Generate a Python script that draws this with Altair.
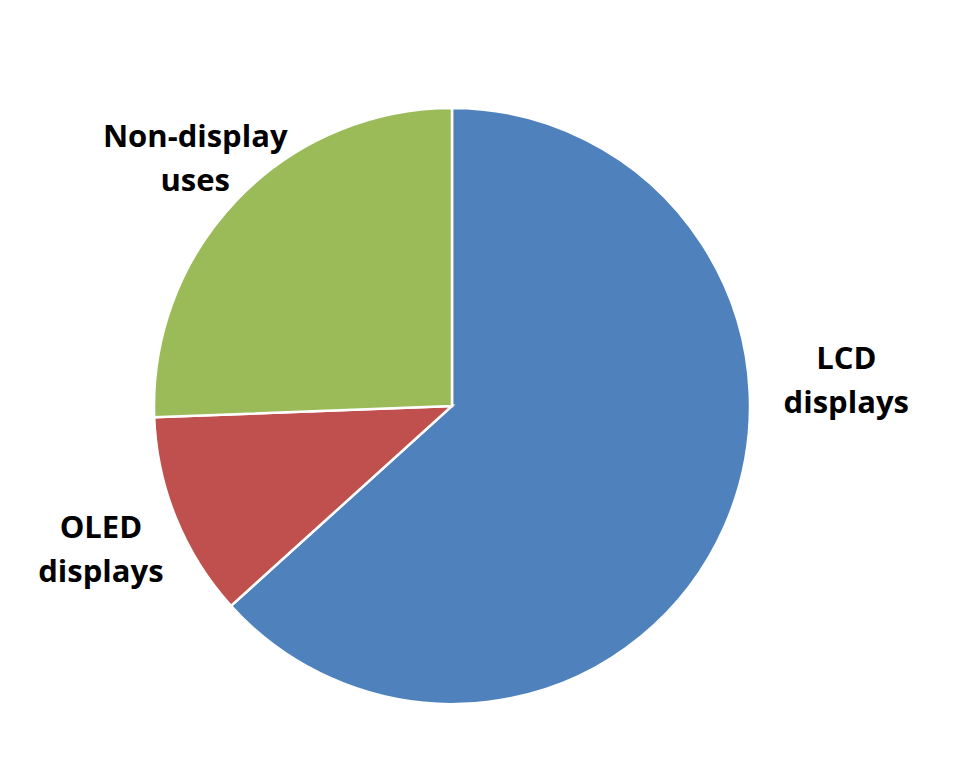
import math
import altair as alt
import pandas as pd

categories = ["LCD displays", "OLED displays", "Non-display uses"]
shares = [63.3, 11.1, 25.6]
colors = ["#4F81BD", "#C0504D", "#9BBB59"]

label_text = ["LCD\ndisplays", "OLED\ndisplays", "Non-display\nuses"]
# label placement (angle from 12 o'clock, clockwise, in degrees; distance from centre in px)
label_angle = [83.3, 250.7, 316.2]
label_radius = [397, 372, 371]

df = pd.DataFrame({"category": categories, "share": shares, "order": [1, 2, 3]})
lab = pd.DataFrame({"label": label_text, "angle": label_angle, "r": label_radius})

cx, cy = 444, 398

pie = alt.Chart(df).mark_arc(outerRadius=298, stroke="white", strokeWidth=2.5).encode(
    theta=alt.Theta("share:Q", stack=True),
    order=alt.Order("order:Q"),
    color=alt.Color("category:N", scale=alt.Scale(domain=categories, range=colors), legend=None),
    x=alt.value(cx),
    y=alt.value(cy),
)

text = alt.Chart(lab).mark_text(
    font="Open Sans", fontWeight="bold", fontSize=31, lineBreak="\n",
    lineHeight=44, align="center", baseline="middle", color="black"
).encode(
    theta=alt.Theta("angle:Q", stack=None, scale=alt.Scale(domain=[0, 360], range=[0, 2 * math.pi])),
    radius=alt.Radius("r:Q", scale=None),
    text="label:N",
    x=alt.value(cx),
    y=alt.value(cy),
)

chart = alt.layer(pie, text).resolve_scale(theta="independent").properties(
    width=937, height=743, padding=0, autosize=alt.AutoSizeParams(type="none")
).configure_view(stroke=None)

chart.save("out.html", embed_options={"renderer": "svg", "actions": False})
